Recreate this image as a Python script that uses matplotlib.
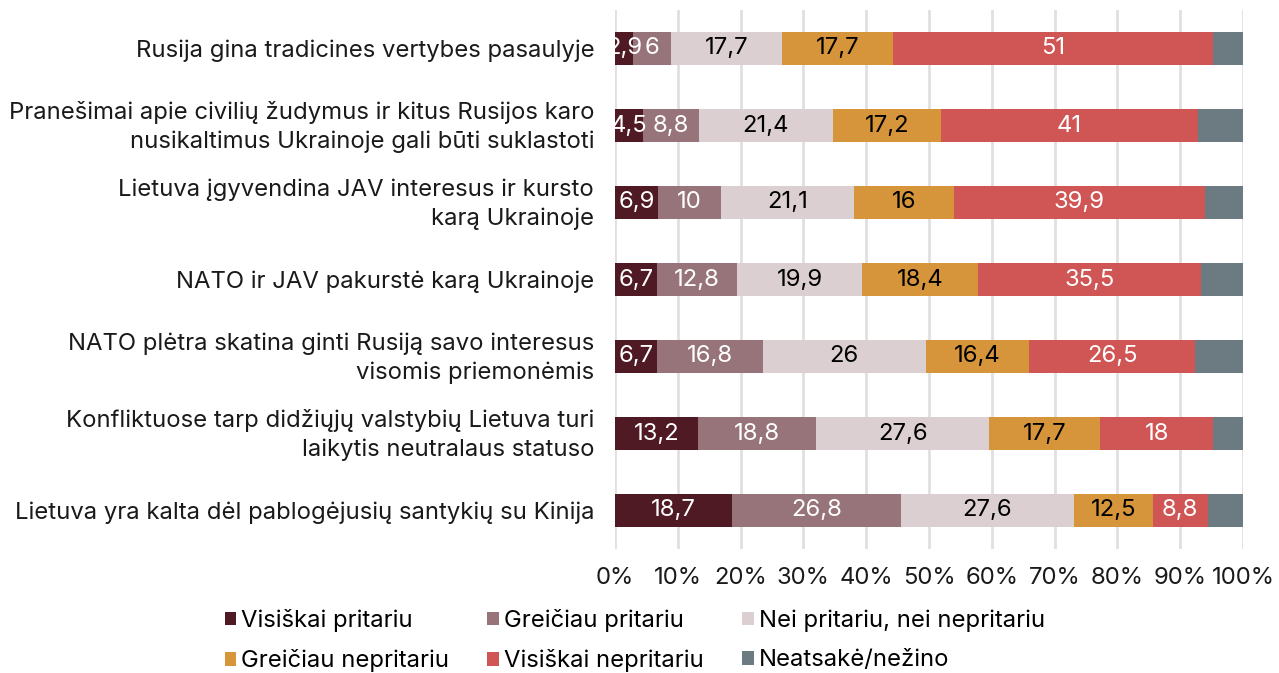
import numpy as np
import matplotlib.pyplot as plt
import matplotlib.transforms as mtransforms

plt.rcParams['font.family'] = ['Inter', 'DejaVu Sans']

# ============ data ============
statements = [
    "Rusija gina tradicines vertybes pasaulyje",
    "Pranešimai apie civilių žudymus ir kitus Rusijos karo\nnusikaltimus Ukrainoje gali būti suklastoti",
    "Lietuva įgyvendina JAV interesus ir kursto\nkarą Ukrainoje",
    "NATO ir JAV pakurstė karą Ukrainoje",
    "NATO plėtra skatina ginti Rusiją savo interesus\nvisomis priemonėmis",
    "Konfliktuose tarp didžiųjų valstybių Lietuva turi\nlaikytis neutralaus statuso",
    "Lietuva yra kalta dėl pablogėjusių santykių su Kinija",
]
visiskai_pritariu = [2.9, 4.5, 6.9, 6.7, 6.7, 13.2, 18.7]
greiciau_pritariu = [6, 8.8, 10, 12.8, 16.8, 18.8, 26.8]
nei_nei = [17.7, 21.4, 21.1, 19.9, 26, 27.6, 27.6]
greiciau_nepritariu = [17.7, 17.2, 16, 18.4, 16.4, 17.7, 12.5]
visiskai_nepritariu = [51, 41, 39.9, 35.5, 26.5, 18, 8.8]
neatsake = [4.7, 7.1, 6.1, 6.7, 7.6, 4.7, 5.6]

series_names = ["Visiškai pritariu", "Greičiau pritariu", "Nei pritariu, nei nepritariu",
                "Greičiau nepritariu", "Visiškai nepritariu", "Neatsakė/nežino"]
series_vals = [visiskai_pritariu, greiciau_pritariu, nei_nei,
               greiciau_nepritariu, visiskai_nepritariu, neatsake]
colors = ['#4f1a24', '#97737a', '#dccfd2', '#d6953a', '#d05555', '#6b7b81']
label_colors = ['white', 'white', 'black', 'black', 'white', None]

FS = 17.2

# ============ plot ============
fig = plt.figure(figsize=(12.79, 6.73), dpi=100)
ax = fig.add_axes([615 / 1279, 1 - 549 / 673, 628 / 1279, 539 / 673])

y = np.arange(len(statements))
left = np.zeros(len(statements))
handles = []
for name, vals, col, lc in zip(series_names, series_vals, colors, label_colors):
    vals = np.array(vals, dtype=float)
    bars = ax.barh(y, vals, left=left, height=0.42, color=col, label=name, zorder=3)
    handles.append(bars)
    if lc is not None:
        for yi, l, v in zip(y, left, vals):
            txt = f"{v:g}".replace('.', ',')
            ax.text(l + v / 2, yi, txt, ha='center', va='center',
                    color=lc, fontsize=FS, zorder=4)
    left += vals

ax.set_xlim(0, 100)
ax.set_ylim(len(statements) - 0.5, -0.5)
ax.set_xticks(np.arange(0, 101, 10))
ax.set_xticklabels([f"{t}%" for t in range(0, 101, 10)], fontsize=FS)
ax.set_yticks(y)
ax.set_yticklabels(statements, fontsize=FS, multialignment='right', linespacing=1.36)
ax.tick_params(axis='both', length=0, colors='#1a1a1a')
ax.tick_params(axis='y', pad=15)
ax.tick_params(axis='x', pad=13)
ax.grid(axis='x', color='#e0e0e0', linewidth=2, zorder=0)
for s in ax.spines.values():
    s.set_visible(False)

# two-line labels sit a bit higher in the original
shift = mtransforms.ScaledTranslation(0, 4 / 100, fig.dpi_scale_trans)
for lab in ax.get_yticklabels():
    if '\n' in lab.get_text():
        lab.set_transform(lab.get_transform() + shift)

# legend filled row by row (matplotlib fills columns first)
order = [0, 3, 1, 4, 2, 5]
fig.legend(handles=[handles[i] for i in order], labels=[series_names[i] for i in order],
           loc='upper left', bbox_to_anchor=(203 / 1279, 0.127), ncol=3, frameon=False,
           fontsize=FS, handlelength=0.5, handleheight=0.5, handletextpad=0.2,
           columnspacing=1.6, labelspacing=0.72)

fig.savefig('out.png', dpi=100)
